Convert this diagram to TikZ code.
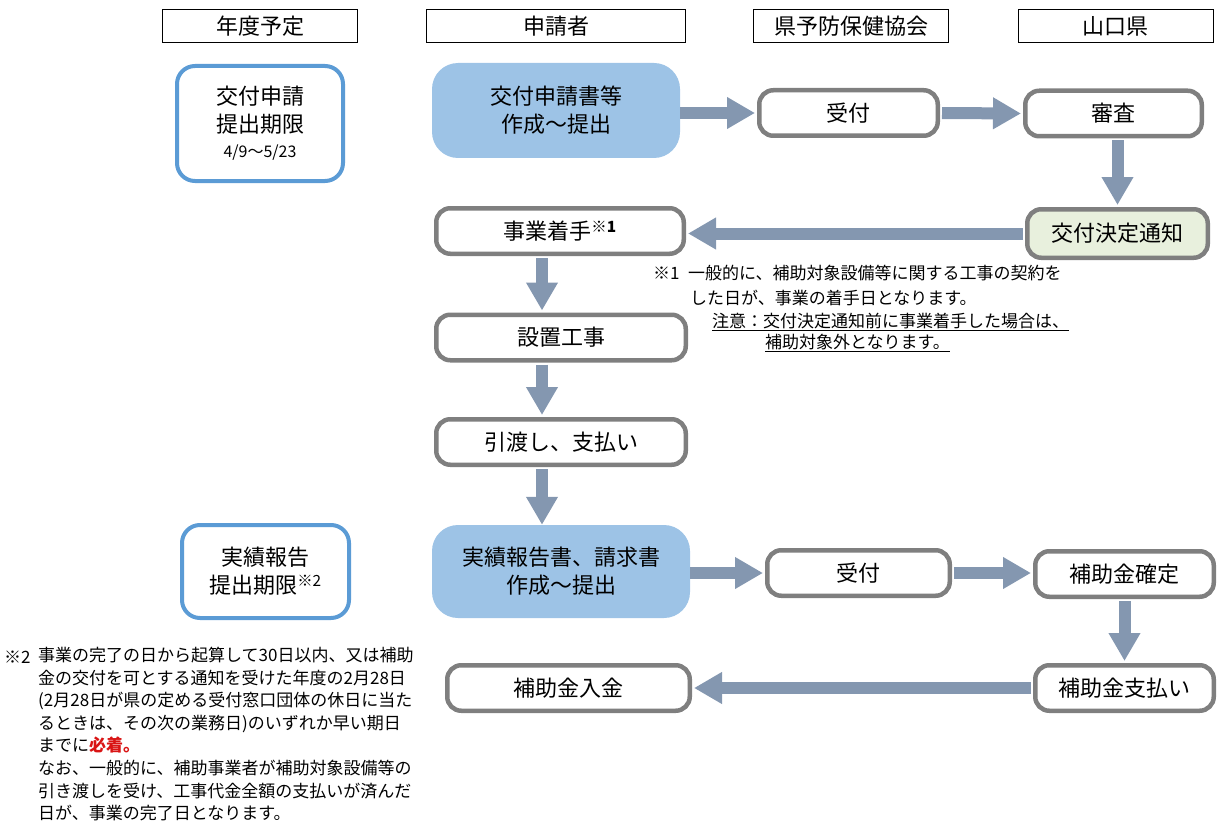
\documentclass[tikz,border=0pt]{standalone}
\usepackage{fontspec}
\setmainfont{Noto Sans CJK JP}
\usetikzlibrary{arrows.meta,calc}
\definecolor{DueClr}{rgb}{0.357,0.608,0.835}
\definecolor{ApplyClr}{rgb}{0.616,0.765,0.902}
\definecolor{StepClr}{rgb}{0.498,0.498,0.498}
\definecolor{NoticeClr}{rgb}{0.910,0.941,0.867}
\definecolor{ArrowClr}{rgb}{0.518,0.592,0.690}
\definecolor{MustClr}{rgb}{0.85,0.08,0.08}

\begin{document}
\begin{tikzpicture}[x=1pt,y=-1pt,
  head/.style={draw,line width=1pt,minimum width=195pt,minimum height=33pt,inner sep=0pt,font=\fontsize{22}{24}\selectfont},
  due/.style={draw=DueClr,line width=4pt,fill=white,rounded corners=18pt,align=center,inner sep=0pt,font=\fontsize{22}{28}\selectfont},
  apply/.style={fill=ApplyClr,rounded corners=26pt,align=center,inner sep=0pt,font=\fontsize{22}{28}\selectfont},
  stepbox/.style={draw=StepClr,line width=4.5pt,fill=white,rounded corners=14pt,align=center,inner sep=0pt,minimum height=45.5pt,font=\fontsize{22}{24}\selectfont},
  flow/.style={draw=ArrowClr,line width=12pt,-{Triangle[width=30pt,length=28pt]},shorten >=2pt,shorten <=2pt},
  note/.style={anchor=base west,inner sep=0pt,font=\fontsize{17}{20}\selectfont}]
\useasboundingbox (0,0) rectangle (1229,832);

\node[head] (hYear) at (260,26) {年度予定};
\node[head,minimum width=259pt] (hApplicant) at (556,26) {申請者};
\node[head] (hAssoc) at (851,26) {県予防保健協会};
\node[head] (hPref) at (1115.5,26) {山口県};

\node[due,minimum width=166pt,minimum height=115pt] (due1) at (260,123.5) {交付申請\\提出期限\\[-3pt]{\fontsize{16}{18}\selectfont 4/9～5/23}};
\node[due,minimum width=167pt,minimum height=93pt] (due2) at (265.5,571.5) {実績報告\\提出期限\textsuperscript{※2}};

\node[apply,minimum width=248pt,minimum height=95pt] (apply1) at (556,110.5) {交付申請書等\\作成～提出};
\node[stepbox,minimum width=247.5pt] (start) at (560,231) {事業着手\textsuperscript{\bfseries ※1}};
\node[stepbox,minimum width=249.5pt] (build) at (561,337.5) {設置工事};
\node[stepbox,minimum width=249.5pt] (handover) at (561,442) {引渡し、支払い};
\node[apply,minimum width=258pt,minimum height=93pt] (apply2) at (561,571.5) {実績報告書、請求書\\作成～提出};
\node[stepbox,minimum width=242.5pt] (income) at (568.5,688) {補助金入金};

\node[stepbox,minimum width=178.5pt] (accept1) at (848.5,113) {受付};
\node[stepbox,minimum width=182.5pt] (accept2) at (858.5,573) {受付};

\node[stepbox,minimum width=176.5pt] (review) at (1113.5,113.5) {審査};
\node[stepbox,minimum width=180.5pt,minimum height=48.5pt,fill=NoticeClr] (decision) at (1117.5,233.5) {交付決定通知};
\node[stepbox,minimum width=178.5pt] (fix) at (1124.5,574) {補助金確定};
\node[stepbox,minimum width=178.5pt] (payment) at (1124.5,688) {補助金支払い};

\coordinate (spine) at (542,0);
\draw[flow,shorten <=0pt] (apply1.east |- accept1.west) -- (accept1.west);
\draw[flow] (accept1.east) -- (review.west);
\draw[flow] (review.south -| decision.north) -- (decision.north);
\draw[flow] (decision.west) -- (decision.west -| start.east);
\draw[flow] (start.south -| spine) -- (build.north -| spine);
\draw[flow] (build.south -| spine) -- (handover.north -| spine);
\draw[flow,shorten >=0pt] (handover.south -| spine) -- (apply2.north -| spine);
\draw[flow,shorten <=0pt] (apply2.east |- accept2.west) -- (accept2.west);
\draw[flow] (accept2.east) -- (accept2.east -| fix.west);
\draw[flow] (fix.south) -- (payment.north);
\draw[flow] (payment.west) -- (income.east);

\node[note] (mark1) at (653,279.5) {※1};
\node[note] (note1a) at (688,279.5) {一般的に、補助対象設備等に関する工事の契約を};
\node[note] (note1b) at (690,304) {した日が、事業の着手日となります。};
\node[note] (note1c) at (712,327) {\underline{注意：交付決定通知前に事業着手した場合は、}};
\node[note] (note1d) at (765,348.5) {\underline{補助対象外となります。}};

\node[note] (mark2) at (4,663) {※2};
\node[anchor=north west,inner sep=0pt,align=left,font=\fontsize{17}{22.6}\selectfont] (note2) at (38,647) {事業の完了の日から起算して30日以内、又は補助\\金の交付を可とする通知を受けた年度の2月28日\\(2月28日が県の定める受付窓口団体の休日に当た\\るときは、その次の業務日)のいずれか早い期日\\までに{\color{MustClr}\bfseries 必着。}\\なお、一般的に、補助事業者が補助対象設備等の\\引き渡しを受け、工事代金全額の支払いが済んだ\\日が、事業の完了日となります。};
\end{tikzpicture}
\end{document}
